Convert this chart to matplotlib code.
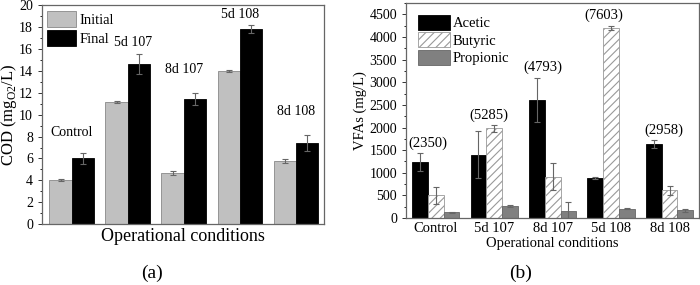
import matplotlib
matplotlib.use("Agg")
import matplotlib.pyplot as plt
import numpy as np

plt.rcParams['font.family'] = ['Liberation Serif', 'DejaVu Serif']
plt.rcParams['hatch.color'] = '#999999'
plt.rcParams['hatch.linewidth'] = 0.8

conditions = ["Control", "5d 107", "8d 107", "5d 108", "8d 108"]

# Panel (a): COD
cod_initial = [4.05, 11.2, 4.65, 14.0, 5.75]
cod_initial_err = [0.08, 0.1, 0.2, 0.06, 0.2]
cod_final = [6.0, 14.65, 11.45, 17.85, 7.4]
cod_final_err = [0.5, 0.9, 0.55, 0.4, 0.75]

# Panel (b): VFAs
acetic = [1240, 1400, 2610, 880, 1640]
acetic_err = [190, 520, 480, 20, 90]
butyric = [500, 1980, 910, 4200, 610]
butyric_err = [190, 80, 300, 40, 90]
propionic = [130, 260, 150, 210, 170]
propionic_err = [10, 25, 200, 20, 40]
totals = ["(2350)", "(5285)", "(4793)", "(7603)", "(2958)"]

fig = plt.figure(figsize=(7.0, 2.85), dpi=100)
axa = fig.add_axes([0.060, 0.214, 0.403, 0.767])
axb = fig.add_axes([0.580, 0.235, 0.419, 0.754])

x = np.arange(len(conditions))
ekw = dict(ecolor='#666666', elinewidth=0.8, capsize=2, capthick=0.8)

# ---- panel a
w = 0.4
axa.bar(x - w/2, cod_initial, w, yerr=cod_initial_err, color='#c0c0c0',
        edgecolor='#888888', linewidth=0.6, error_kw=ekw, label='Initial')
axa.bar(x + w/2, cod_final, w, yerr=cod_final_err, color='black',
        edgecolor='black', linewidth=0.6, error_kw=ekw, label='Final')
axa.set_xlim(-0.53, 4.5)
axa.set_ylim(0, 20)
axa.set_yticks(np.arange(0, 21, 2))
axa.set_yticks(np.arange(1, 20, 2), minor=True)
axa.set_xticks([])
axa.tick_params(axis='y', labelsize=10, length=3, width=0.7, direction='out', colors='#333333', labelcolor='black')
axa.tick_params(axis='y', which='minor', length=1.5, width=0.6)
axa.set_ylabel('COD (mg$_{\\mathregular{O2}}$/L)', fontsize=12)
axa.yaxis.set_label_coords(-0.082, 0.5)
axa.set_xlabel('Operational conditions', fontsize=13, labelpad=3)
for s in axa.spines.values():
    s.set_color('#666666'); s.set_linewidth(0.9)
lab_pos_a = [(0.0, 8.4), (1.1, 16.6), (2.0, 14.1), (3.0, 19.2), (4.0, 10.3)]
for name, (px, py) in zip(conditions, lab_pos_a):
    axa.text(px, py, name, ha='center', va='center', fontsize=10)
axa.legend(loc='upper left', bbox_to_anchor=(0.0, 1.0), frameon=False, fontsize=10.5,
           handlelength=2.0, handleheight=1.4, handletextpad=0.2, labelspacing=0.15,
           borderaxespad=0.15, borderpad=0.2)
fig.text(0.217, 0.042, '(a)', ha='center', va='center', fontsize=14)

# ---- panel b
wb = 0.27
axb.bar(x - wb, acetic, wb, yerr=acetic_err, color='black', edgecolor='black',
        linewidth=0.6, error_kw=ekw, label='Acetic')
axb.bar(x, butyric, wb, yerr=butyric_err, color='white', edgecolor='#999999',
        hatch='////', linewidth=0.6, error_kw=ekw, label='Butyric')
axb.bar(x + wb, propionic, wb, yerr=propionic_err, color='#808080', edgecolor='#666666',
        linewidth=0.6, error_kw=ekw, label='Propionic')
axb.set_xlim(-0.51, 4.51)
axb.set_ylim(0, 4750)
axb.set_yticks(np.arange(0, 4501, 500))
axb.set_yticks(np.arange(250, 4751, 500), minor=True)
axb.set_xticks(x)
axb.set_xticklabels(conditions)
axb.tick_params(axis='x', length=0, labelsize=10.5, pad=3)
axb.tick_params(axis='y', labelsize=10, length=3, width=0.7, direction='out', colors='#333333', labelcolor='black')
axb.tick_params(axis='y', which='minor', length=1.5, width=0.6)
axb.set_ylabel('VFAs (mg/L)', fontsize=10.5, labelpad=2)
axb.set_xlabel('Operational conditions', fontsize=10.5, labelpad=1)
for s in axb.spines.values():
    s.set_color('#666666'); s.set_linewidth(0.9)
lab_pos_b = [(-0.13, 1654), (0.9, 2272), (1.83, 3330), (2.88, 4478), (3.9, 1941)]
for t, (px, py) in zip(totals, lab_pos_b):
    axb.text(px, py, t, ha='center', va='center', fontsize=10.5)
axb.legend(loc='upper left', bbox_to_anchor=(0.0, 1.0), frameon=False, fontsize=10.5,
           handlelength=2.2, handleheight=1.2, handletextpad=0.2, labelspacing=0.15,
           borderaxespad=0.5, borderpad=0.3)
fig.text(0.743, 0.042, '(b)', ha='center', va='center', fontsize=14)

fig.savefig('out.png', dpi=100)
